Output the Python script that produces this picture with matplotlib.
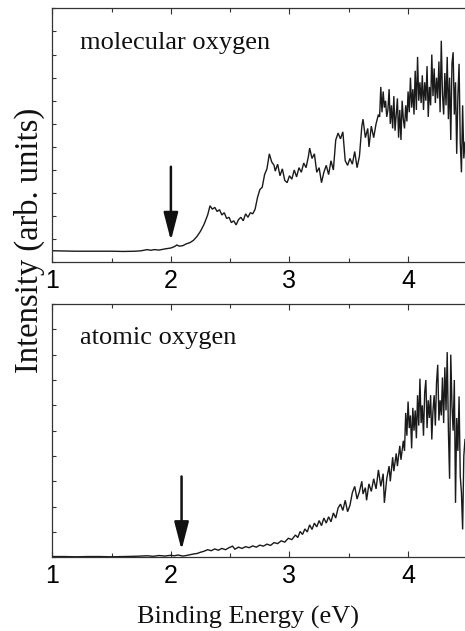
import matplotlib
matplotlib.use("Agg")
import matplotlib.pyplot as plt
from matplotlib.ticker import MultipleLocator

# ---------------- data ----------------
mol_x = [1.00, 1.10, 1.20, 1.30, 1.40, 1.50, 1.60, 1.70, 1.75, 1.80, 1.83, 1.86, 1.90, 1.95,
         2.00, 2.03, 2.05, 2.07, 2.10, 2.13, 2.16, 2.19, 2.22, 2.25, 2.28, 2.31, 2.33, 2.35,
         2.37, 2.39, 2.41, 2.43, 2.45, 2.47, 2.49, 2.51, 2.53, 2.55, 2.57, 2.59, 2.61, 2.63,
         2.65, 2.67, 2.69, 2.71, 2.73, 2.75, 2.77, 2.79, 2.81, 2.83, 2.85, 2.87, 2.88, 2.90,
         2.92, 2.94, 2.96, 2.98, 3.00, 3.02, 3.04, 3.06, 3.08, 3.10, 3.12, 3.14, 3.16, 3.17,
         3.19, 3.21, 3.23, 3.25, 3.27, 3.29, 3.31, 3.33, 3.35, 3.37, 3.39, 3.41, 3.43, 3.45,
         3.47, 3.49, 3.51, 3.53, 3.55, 3.57, 3.59, 3.61, 3.62, 3.64, 3.66, 3.67, 3.69, 3.71,
         3.73, 3.75, 3.76, 3.77, 3.78, 3.79, 3.80, 3.81, 3.82, 3.83, 3.84, 3.85, 3.86, 3.87,
         3.88, 3.89, 3.90, 3.91, 3.92, 3.93, 3.94, 3.95, 3.96, 3.97, 3.98, 3.99, 4.00, 4.01,
         4.02, 4.03, 4.04, 4.05, 4.06, 4.07, 4.08, 4.09, 4.10, 4.11, 4.12, 4.13, 4.14, 4.15,
         4.16, 4.17, 4.18, 4.19, 4.20, 4.21, 4.22, 4.23, 4.24, 4.25, 4.26, 4.27, 4.28, 4.29,
         4.30, 4.31, 4.32, 4.33, 4.34, 4.35, 4.36, 4.37, 4.38, 4.39, 4.40, 4.41, 4.42, 4.43,
         4.44, 4.45, 4.46, 4.47, 4.48]
mol_y = [0.50, 0.49, 0.48, 0.48, 0.48, 0.48, 0.47, 0.48, 0.50, 0.55, 0.52, 0.55, 0.53, 0.58,
         0.62, 0.68, 0.75, 0.70, 0.72, 0.80, 0.85, 0.95, 1.12, 1.35, 1.65, 2.05, 2.45, 2.30,
         2.38, 2.20, 2.28, 2.05, 2.15, 1.90, 1.95, 1.72, 1.80, 1.62, 1.85, 1.95, 1.80, 2.10,
         1.95, 2.15, 2.10, 2.30, 2.80, 3.15, 3.25, 3.80, 4.05, 4.70, 4.35, 4.20, 3.95, 4.25,
         3.75, 4.05, 3.55, 3.45, 3.75, 3.60, 4.00, 3.70, 4.10, 3.90, 4.30, 4.10, 4.60, 4.95,
         4.50, 4.70, 3.90, 4.10, 3.45, 3.90, 4.20, 3.80, 4.40, 4.00, 5.30, 5.60, 5.35, 5.65,
         4.40, 4.20, 4.50, 4.25, 4.80, 4.10, 4.60, 5.90, 6.20, 5.40, 5.80, 5.00, 5.90, 5.40,
         6.00, 6.40, 6.30, 7.60, 6.50, 7.40, 6.70, 7.00, 6.30, 6.60, 7.50, 6.00, 6.80, 5.80,
         7.20, 5.70, 6.40, 7.10, 5.40, 6.60, 5.30, 7.00, 6.20, 5.80, 6.80, 6.10, 7.40, 6.50,
         8.00, 6.70, 7.50, 6.40, 8.30, 6.60, 8.90, 7.00, 7.80, 6.90, 8.10, 6.60, 7.80, 7.00,
         8.50, 6.30, 7.60, 6.80, 9.00, 7.20, 8.40, 6.90, 8.00, 7.10, 8.70, 6.50, 9.60, 7.30,
         6.40, 8.20, 6.80, 8.90, 6.20, 8.00, 5.30, 8.60, 9.10, 6.40, 7.80, 4.70, 7.20, 8.60,
         5.20, 3.90, 6.80, 4.50, 5.20]

atom_x = [1.00, 1.10, 1.20, 1.30, 1.40, 1.50, 1.60, 1.70, 1.80, 1.85, 1.90, 1.95, 2.00, 2.03,
          2.06, 2.10, 2.13, 2.16, 2.19, 2.22, 2.25, 2.28, 2.31, 2.34, 2.37, 2.40, 2.43, 2.46,
          2.49, 2.52, 2.54, 2.57, 2.60, 2.63, 2.66, 2.69, 2.72, 2.75, 2.78, 2.81, 2.84, 2.87,
          2.90, 2.93, 2.96, 2.99, 3.02, 3.05, 3.07, 3.09, 3.11, 3.13, 3.15, 3.17, 3.19, 3.21,
          3.23, 3.25, 3.27, 3.29, 3.31, 3.33, 3.35, 3.37, 3.39, 3.41, 3.43, 3.45, 3.47, 3.49,
          3.51, 3.53, 3.55, 3.57, 3.59, 3.61, 3.62, 3.64, 3.65, 3.67, 3.69, 3.71, 3.73, 3.75,
          3.77, 3.79, 3.80, 3.82, 3.84, 3.85, 3.87, 3.88, 3.90, 3.91, 3.93, 3.94, 3.96, 3.97,
          3.98, 3.99, 4.00, 4.01, 4.02, 4.03, 4.04, 4.05, 4.06, 4.07, 4.08, 4.09, 4.10, 4.11,
          4.12, 4.13, 4.14, 4.15, 4.16, 4.17, 4.18, 4.19, 4.20, 4.21, 4.22, 4.23, 4.24, 4.25,
          4.26, 4.27, 4.28, 4.29, 4.30, 4.31, 4.32, 4.33, 4.34, 4.35, 4.36, 4.37, 4.38, 4.39,
          4.40, 4.41, 4.42, 4.43, 4.44, 4.45, 4.46, 4.47, 4.48]
atom_y = [0.03, 0.03, 0.02, 0.03, 0.03, 0.02, 0.03, 0.04, 0.06, 0.04, 0.07, 0.05, 0.08, 0.06,
          0.09, 0.05, 0.07, 0.10, 0.13, 0.15, 0.20, 0.24, 0.30, 0.26, 0.33, 0.28, 0.35, 0.30,
          0.38, 0.44, 0.32, 0.40, 0.35, 0.42, 0.38, 0.45, 0.40, 0.48, 0.44, 0.52, 0.47, 0.58,
          0.54, 0.65, 0.60, 0.75, 0.70, 0.88, 0.78, 1.02, 0.90, 1.12, 1.00, 1.28, 1.10, 1.35,
          1.20, 1.45, 1.25, 1.55, 1.35, 1.60, 1.40, 1.75, 1.55, 1.95, 2.10, 1.85, 2.25, 1.80,
          2.05, 2.55, 2.80, 2.30, 2.60, 3.00, 2.50, 2.75, 2.25, 2.90, 2.60, 3.10, 2.70, 3.45,
          2.80, 3.30, 2.15, 3.10, 3.60, 3.00, 3.95, 3.40, 4.10, 3.60, 4.40, 3.85, 4.60, 4.20,
          5.70, 4.80, 6.15, 5.10, 5.60, 4.30, 5.90, 5.00, 5.80, 4.70, 6.40, 5.20, 7.05, 5.30,
          6.00, 4.80, 6.50, 7.00, 5.10, 6.20, 5.50, 6.40, 4.65, 5.80, 6.40, 5.20, 6.90, 7.60,
          5.40, 6.20, 5.60, 7.10, 5.30, 7.50, 5.80, 8.10, 5.00, 3.10, 8.00, 6.00, 5.00, 7.00,
          2.15, 5.50, 4.20, 6.35, 3.20, 2.55, 1.10, 4.00, 4.65]

x_ticks = [1, 2, 3, 4]
x_tick_labels = ["1", "2", "3", "4"]
panel_labels = ["molecular oxygen", "atomic oxygen"]
# arrow: (x, tail y, tip y)
mol_arrow = (2.00, 4.14, 0.94)
atom_arrow = (2.09, 3.19, 0.29)

# ---------------- figure ----------------
W, H = 465, 631
fig = plt.figure(figsize=(W / 100, H / 100), dpi=100)

def px_rect(l, t, r, b):
    return [l / W, 1 - b / H, (r - l) / W, (b - t) / H]

ax1 = fig.add_axes(px_rect(52.3, 8.4, 465, 262.3))
ax2 = fig.add_axes(px_rect(52.3, 304, 465, 557.3))

serif = ["Liberation Serif", "DejaVu Serif"]
sans = ["Liberation Sans", "DejaVu Sans"]
spine_col = "#333333"

def style(ax, ymax):
    ax.set_xlim(1, 4.48)
    ax.set_ylim(0, ymax)
    ax.set_xticks(x_ticks)
    ax.set_xticklabels(x_tick_labels, fontfamily=sans, fontsize=18)
    ax.xaxis.set_minor_locator(MultipleLocator(0.5))
    ax.yaxis.set_major_locator(MultipleLocator(1))
    ax.set_yticklabels([])
    ax.spines["right"].set_visible(False)
    for s in ("left", "top", "bottom"):
        ax.spines[s].set_color(spine_col)
        ax.spines[s].set_linewidth(0.9)
    ax.tick_params(axis="x", which="both", direction="in", top=True, bottom=True,
                   color=spine_col, width=0.8, pad=5)
    ax.tick_params(axis="x", which="major", length=4)
    ax.tick_params(axis="x", which="minor", length=3)
    ax.tick_params(axis="y", which="major", direction="in", left=True, right=False,
                   length=3, width=0.8, color=spine_col)

style(ax1, 11)
style(ax2, 10)

line_col = "#1a1a1a"
ax1.plot(mol_x, mol_y, color=line_col, lw=1.0, solid_joinstyle="miter")
ax2.plot(atom_x, atom_y, color=line_col, lw=1.0, solid_joinstyle="miter")

for ax, (ax_x, ytail, ytip) in ((ax1, mol_arrow), (ax2, atom_arrow)):
    ax.annotate("", xy=(ax_x, ytip), xytext=(ax_x, ytail),
                arrowprops=dict(arrowstyle="-|>,head_length=0.85,head_width=0.22",
                                lw=1.8, color="#111111", shrinkA=0, shrinkB=0,
                                mutation_scale=20))

ax1.text(1.233, 9.26, panel_labels[0], fontfamily=serif, fontsize=19,
         va="baseline", ha="left", color="#111111")
ax2.text(1.233, 8.43, panel_labels[1], fontfamily=serif, fontsize=19,
         va="baseline", ha="left", color="#111111")

fig.text(248 / W, 1 - 623.3 / H, "Binding Energy (eV)", fontfamily=serif, fontsize=19,
         ha="center", va="baseline", color="#111111")
fig.text(29.5 / W, 1 - 240 / H, "Intensity (arb. units)", fontfamily=serif, fontsize=23.5,
         rotation=90, ha="center", va="center", color="#111111")

fig.savefig("out.png", dpi=100)
